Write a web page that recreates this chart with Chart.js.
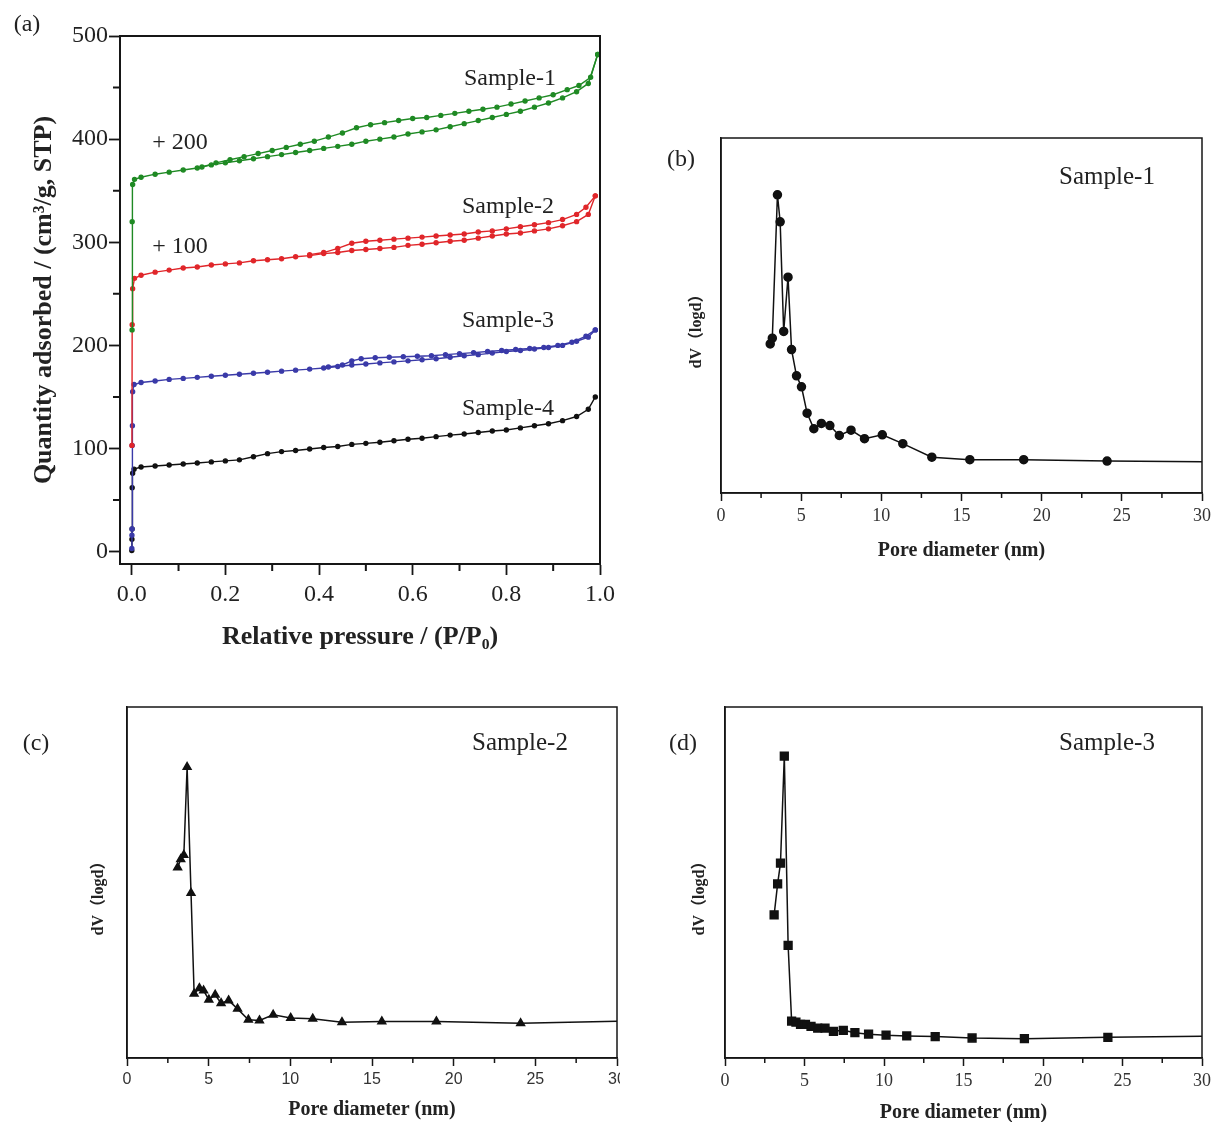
<!DOCTYPE html>
<html>
<head>
<meta charset="utf-8">
<script src="https://cdn.jsdelivr.net/npm/chart.js@4"></script>
<style>
  body { margin: 0; width: 1215px; height: 1122px; overflow: hidden; background: #fff; position: relative; font-family: "Liberation Serif", serif; }
  .box { position: absolute; overflow: hidden; }
  .lbl { position: absolute; transform: translate(-50%, -50%); white-space: nowrap; color: #222; font-size: 24px; }
</style>
</head>
<body>
<div class="box" style="left:0;top:0;width:620px;height:670px"><canvas id="ca" width="620" height="670"></canvas></div>
<div class="box" style="left:660px;top:120px;width:555px;height:450px"><canvas id="cb" width="555" height="450"></canvas></div>
<div class="box" style="left:0;top:690px;width:620px;height:432px"><canvas id="cc" width="640" height="440"></canvas></div>
<div class="box" style="left:660px;top:690px;width:555px;height:432px"><canvas id="cd" width="555" height="440"></canvas></div>

<div class="lbl" style="left:27px;top:23px">(a)</div>
<div class="lbl" style="left:180px;top:141px">+ 200</div>
<div class="lbl" style="left:180px;top:245px">+ 100</div>
<div class="lbl" style="left:510px;top:77px">Sample-1</div>
<div class="lbl" style="left:508px;top:205px">Sample-2</div>
<div class="lbl" style="left:508px;top:319px">Sample-3</div>
<div class="lbl" style="left:508px;top:407px">Sample-4</div>
<div class="lbl" style="left:681px;top:158px">(b)</div>
<div class="lbl" style="left:1107px;top:176px;font-size:25px">Sample-1</div>
<div class="lbl" style="left:36px;top:742px">(c)</div>
<div class="lbl" style="left:520px;top:742px;font-size:25px">Sample-2</div>
<div class="lbl" style="left:683px;top:742px">(d)</div>
<div class="lbl" style="left:1107px;top:742px;font-size:25px">Sample-3</div>

<script>
// (a) N2 isotherms, Sample-1 shifted +200, Sample-2 shifted +100
const s1AdsP = [0.0008, 0.001, 0.002, 0.006, 0.02, 0.05, 0.08, 0.11, 0.14, 0.17, 0.20, 0.23, 0.26, 0.29, 0.32, 0.35, 0.38, 0.41, 0.44, 0.47, 0.50, 0.53, 0.56, 0.59, 0.62, 0.65, 0.68, 0.71, 0.74, 0.77, 0.80, 0.83, 0.86, 0.89, 0.92, 0.95, 0.975, 0.995];
const s1AdsQ = [215, 320, 356, 361, 363, 366, 368, 370, 372, 375, 377, 379, 381, 383, 385, 387, 389, 391, 393, 395, 398, 400, 402, 405, 407, 409, 412, 415, 418, 421, 424, 427, 431, 435, 440, 446, 454, 482];
const s1DesP = [0.995, 0.98, 0.955, 0.93, 0.90, 0.87, 0.84, 0.81, 0.78, 0.75, 0.72, 0.69, 0.66, 0.63, 0.60, 0.57, 0.54, 0.51, 0.48, 0.45, 0.42, 0.39, 0.36, 0.33, 0.30, 0.27, 0.24, 0.21, 0.18, 0.15];
const s1DesQ = [482, 460, 452, 448, 443, 440, 437, 434, 431, 429, 427, 425, 423, 421, 420, 418, 416, 414, 411, 406, 402, 398, 395, 392, 389, 386, 383, 380, 377, 373];

const s2AdsP = [0.0005, 0.001, 0.002, 0.006, 0.02, 0.05, 0.08, 0.11, 0.14, 0.17, 0.20, 0.23, 0.26, 0.29, 0.32, 0.35, 0.38, 0.41, 0.44, 0.47, 0.50, 0.53, 0.56, 0.59, 0.62, 0.65, 0.68, 0.71, 0.74, 0.77, 0.80, 0.83, 0.86, 0.89, 0.92, 0.95, 0.975, 0.99];
const s2AdsQ = [103, 220, 255, 265, 268, 271, 273, 275, 276, 278, 279, 280, 282, 283, 284, 286, 287, 289, 290, 292, 293, 294, 295, 297, 298, 299.5, 301, 302, 304, 306, 308, 309, 311, 313, 316, 320, 327, 345];
const s2DesP = [0.99, 0.97, 0.95, 0.92, 0.89, 0.86, 0.83, 0.80, 0.77, 0.74, 0.71, 0.68, 0.65, 0.62, 0.59, 0.56, 0.53, 0.50, 0.47, 0.44, 0.41, 0.38];
const s2DesQ = [345, 334, 327, 322, 319, 317, 315, 313, 311, 310, 308, 307, 306, 305, 304, 303, 302, 301, 299, 294, 290, 288];

const s3AdsP = [0.0003, 0.0005, 0.0008, 0.001, 0.0015, 0.002, 0.005, 0.02, 0.05, 0.08, 0.11, 0.14, 0.17, 0.20, 0.23, 0.26, 0.29, 0.32, 0.35, 0.38, 0.41, 0.44, 0.47, 0.50, 0.53, 0.56, 0.59, 0.62, 0.65, 0.68, 0.71, 0.74, 0.77, 0.80, 0.83, 0.86, 0.89, 0.92, 0.95, 0.975, 0.99];
const s3AdsQ = [3, 16, 22, 103, 122, 155, 162, 164, 165.5, 167, 168, 169, 170, 171, 172, 173, 174, 175, 176, 177, 178, 179.5, 181, 182, 183, 184, 185, 186, 187, 188.5, 190, 191, 192.5, 194, 195, 196.5, 198, 200, 204, 208, 215];
const s3DesP = [0.99, 0.97, 0.94, 0.91, 0.88, 0.85, 0.82, 0.79, 0.76, 0.73, 0.70, 0.67, 0.64, 0.61, 0.58, 0.55, 0.52, 0.49, 0.47, 0.45, 0.42];
const s3DesQ = [215, 209, 203, 200, 198, 197, 196, 195, 194, 193, 192, 191, 190, 189.5, 189, 188.5, 188, 187, 185, 181, 179];

const s4P = [0.0002, 0.0005, 0.0008, 0.001, 0.002, 0.005, 0.02, 0.05, 0.08, 0.11, 0.14, 0.17, 0.20, 0.23, 0.26, 0.29, 0.32, 0.35, 0.38, 0.41, 0.44, 0.47, 0.50, 0.53, 0.56, 0.59, 0.62, 0.65, 0.68, 0.71, 0.74, 0.77, 0.80, 0.83, 0.86, 0.89, 0.92, 0.95, 0.975, 0.99];
const s4Q = [1, 12, 22, 62, 76, 80, 82, 83, 84, 85, 86, 87, 88, 89, 92, 95, 97, 98, 99.5, 101, 102, 104, 105, 106, 107.5, 109, 110, 111.5, 113, 114, 115.5, 117, 118, 120, 122, 124, 127, 131, 138, 150];

const pTicks = [0, 0.2, 0.4, 0.6, 0.8, 1.0];
const pMinor = [0.1, 0.3, 0.5, 0.7, 0.9];
const qTicks = [0, 100, 200, 300, 400, 500];
const qMinor = [50, 150, 250, 350, 450];

// (b)-(d) pore size distributions, arbitrary units
const pore1 = [3.07, 3.2, 3.52, 3.69, 3.91, 4.18, 4.4, 4.71, 5.02, 5.37, 5.79, 6.26, 6.79, 7.38, 8.11, 8.95, 10.06, 11.34, 13.15, 15.52, 18.88, 24.08, 30];
const dv1 = [42.0, 43.6, 84.0, 76.4, 45.5, 60.8, 40.4, 33.0, 29.9, 22.5, 18.1, 19.6, 19.0, 16.2, 17.7, 15.3, 16.4, 13.9, 10.1, 9.4, 9.4, 9.0, 8.8];
const pore2 = [3.10, 3.29, 3.48, 3.68, 3.92, 4.11, 4.43, 4.69, 5.01, 5.40, 5.76, 6.22, 6.77, 7.43, 8.11, 8.95, 10.02, 11.37, 13.16, 15.6, 18.94, 24.1, 30];
const dv2 = [54.3, 56.6, 57.8, 82.9, 47.0, 18.3, 19.9, 19.2, 16.6, 18.0, 15.6, 16.4, 14.0, 10.9, 10.7, 12.3, 11.4, 11.2, 10.2, 10.4, 10.4, 9.9, 10.5];
const pore3 = [3.09, 3.31, 3.49, 3.73, 3.97, 4.19, 4.46, 4.75, 5.06, 5.41, 5.83, 6.29, 6.82, 7.44, 8.17, 9.03, 10.13, 11.43, 13.22, 15.54, 18.83, 24.08, 30];
const dv3 = [40.8, 49.6, 55.5, 86.0, 32.1, 10.5, 10.2, 9.6, 9.6, 9.0, 8.5, 8.5, 7.6, 7.9, 7.2, 6.8, 6.5, 6.3, 6.1, 5.7, 5.5, 5.9, 6.2];

const dTicks = [0, 5, 10, 15, 20, 25, 30];
const dMinor = [2.5, 7.5, 12.5, 17.5, 22.5, 27.5];

const SERIF = "'Liberation Serif', 'Times New Roman', serif";
const SANS = "'Liberation Sans', Arial, sans-serif";
const INK = '#161616';

// box around the plot + short minor ticks
const frame = {
    id: 'frame',
    afterDatasetsDraw(chart, args, o) {
        const { ctx, chartArea: a, scales } = chart;
        ctx.save();
        ctx.strokeStyle = INK;
        ctx.lineWidth = o.width;
        ctx.strokeRect(a.left, a.top, a.right - a.left, a.bottom - a.top);
        ctx.beginPath();
        (o.minorX || []).forEach(v => {
            const px = scales.x.getPixelForValue(v);
            ctx.moveTo(px, a.bottom);
            ctx.lineTo(px, a.bottom + o.minorLen);
        });
        (o.minorY || []).forEach(v => {
            const py = scales.y.getPixelForValue(v);
            ctx.moveTo(a.left, py);
            ctx.lineTo(a.left - o.minorLen, py);
        });
        ctx.stroke();
        ctx.restore();
    }
};

function xy(xs, ys) {
    return xs.map((x, i) => ({ x: x, y: ys[i] }));
}

function branch(xs, ys, color) {
    return {
        data: xy(xs, ys),
        showLine: true,
        borderColor: color,
        backgroundColor: color,
        borderWidth: 1.4,
        pointRadius: 2,
        pointStyle: 'circle',
        tension: 0,
    };
}

const green = '#1f8a24', red = '#e0262a', blue = '#3a3aa8', black = '#111';

new Chart(document.getElementById('ca'), {
    type: 'scatter',
    data: {
        datasets: [
            branch(s1AdsP, s1AdsQ, green),
            branch(s1DesP, s1DesQ, green),
            branch(s2AdsP, s2AdsQ, red),
            branch(s2DesP, s2DesQ, red),
            branch(s3AdsP, s3AdsQ, blue),
            branch(s3DesP, s3DesQ, blue),
            branch(s4P, s4Q, black),
        ],
    },
    options: {
        responsive: false,
        devicePixelRatio: 1,
        animation: false,
        layout: { padding: { top: 36, right: 17, left: 0, bottom: 0 } },
        plugins: {
            legend: { display: false },
            tooltip: { enabled: false },
            frame: { width: 2, minorX: pMinor, minorY: qMinor, minorLen: 7 },
        },
        scales: {
            x: {
                type: 'linear', min: -0.025, max: 1.0,
                afterBuildTicks: s => { s.ticks = pTicks.map(v => ({ value: v })); },
                afterFit: s => { s.height = 106; },
                ticks: { font: { family: SERIF, size: 24 }, color: '#222', padding: 5, maxRotation: 0, autoSkip: false,
                    callback: v => v.toFixed(1) },
                grid: { drawOnChartArea: false, drawTicks: true, tickLength: 11, color: INK, tickWidth: 1.8 },
                border: { display: true, color: INK, width: 2 },
                title: { display: true, text: 'Relative pressure / (P/P₀)', color: '#222',
                    font: { family: SERIF, size: 26, weight: 'bold' }, padding: { top: 0, bottom: 17 } },
            },
            y: {
                type: 'linear', min: -12, max: 500,
                afterBuildTicks: s => { s.ticks = qTicks.map(v => ({ value: v })); },
                afterFit: s => { s.width = 120; },
                ticks: { font: { family: SERIF, size: 24 }, color: '#222', padding: 1 },
                grid: { drawOnChartArea: false, drawTicks: true, tickLength: 11, color: INK, tickWidth: 1.8 },
                border: { display: true, color: INK, width: 2 },
                title: { display: true, text: 'Quantity adsorbed / (cm³/g, STP)', color: '#222',
                    font: { family: SERIF, size: 26, weight: 'bold' }, padding: { top: 29, bottom: 0 } },
            },
        },
    },
    plugins: [frame],
});

function psd(id, xs, ys, marker, size, box) {
    const last = xs.length - 1;
    new Chart(document.getElementById(id), {
        type: 'scatter',
        data: {
            datasets: [{
                data: xy(xs, ys),
                showLine: true,
                borderColor: '#111',
                backgroundColor: '#111',
                borderWidth: 1.5,
                pointStyle: marker,
                pointRadius: c => (c.dataIndex === last ? 0 : size),
                tension: 0,
            }],
        },
        options: {
            responsive: false,
            devicePixelRatio: 1,
            animation: false,
            layout: { padding: { top: box.top, right: box.right, left: 0, bottom: 0 } },
            plugins: {
                legend: { display: false },
                tooltip: { enabled: false },
                frame: { width: 1.5, minorX: dMinor, minorLen: 5 },
            },
            scales: {
                x: {
                    type: 'linear', min: 0, max: 30,
                    afterBuildTicks: s => { s.ticks = dTicks.map(v => ({ value: v })); },
                    afterFit: s => { s.height = box.xh; },
                    ticks: { font: { family: box.tickFont, size: box.tickSize }, color: '#333', padding: box.tickPad,
                        maxRotation: 0, autoSkip: false },
                    grid: { drawOnChartArea: false, drawTicks: true, tickLength: 8, color: INK, tickWidth: 1.5 },
                    border: { display: true, color: INK, width: 1.5 },
                    title: { display: true, text: 'Pore diameter (nm)', color: '#222',
                        font: { family: SERIF, size: 20, weight: 'bold' }, padding: { top: 0, bottom: box.titlePad } },
                },
                y: {
                    type: 'linear', min: 0, max: 100,
                    afterFit: s => { s.width = box.yw; },
                    ticks: { display: false },
                    grid: { display: false },
                    border: { display: true, color: INK, width: 1.5 },
                    title: { display: true, text: 'dV（logd）\u3000\u3000', color: '#222',
                        font: { family: SERIF + ", 'Noto Sans CJK SC'", size: 16, weight: 'bold' },
                        padding: { top: box.yTitlePad, bottom: 0 } },
                },
            },
        },
        plugins: [frame],
    });
}

psd('cb', pore1, dv1, 'circle', 4, { top: 18, right: 13, xh: 77, yw: 61, tickFont: SERIF, tickSize: 18, tickPad: 4, titlePad: 7, yTitlePad: 27 });
psd('cc', pore2, dv2, 'triangle', 4.5, { top: 17, right: 23, xh: 72, yw: 127, tickFont: SANS, tickSize: 16, tickPad: 4, titlePad: 8, yTitlePad: 89 });
psd('cd', pore3, dv3, 'rect', 5.5, { top: 17, right: 9, xh: 72, yw: 65, tickFont: SERIF, tickSize: 18, tickPad: 4, titlePad: 5, yTitlePad: 30 });
</script>
</body>
</html>
